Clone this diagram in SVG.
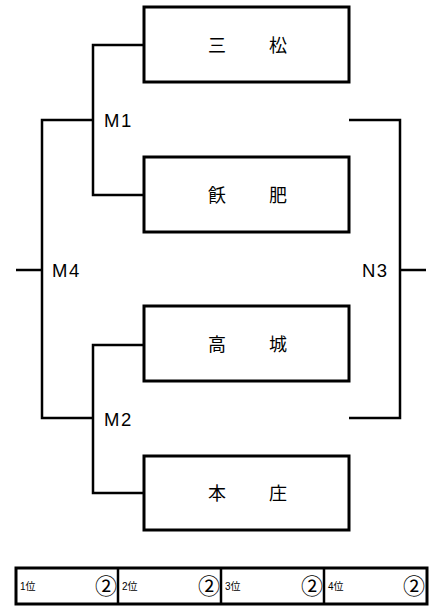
<svg xmlns="http://www.w3.org/2000/svg" width="440" height="608" viewBox="0 0 440 608">
<style>
.box{fill:#fff;stroke:#000;stroke-width:3}
.ln{fill:none;stroke:#000;stroke-width:2.5}
.nm{font-family:"Noto Sans CJK JP","Noto Sans CJK SC",sans-serif;font-size:18px;text-anchor:middle;fill:#000}
.lb{font-family:"Liberation Sans",Arial,sans-serif;font-size:18.5px;fill:#000;letter-spacing:1.5px}
.rk{font-family:"Liberation Sans","Noto Sans CJK JP",sans-serif;font-size:10px;fill:#000}
.cr{font-family:"Noto Sans CJK JP","DejaVu Sans",sans-serif;font-size:22px;text-anchor:middle;fill:#000}
</style>
<rect width="440" height="608" fill="#fff"/>
<g id="connectors">
<polyline class="ln" points="144,45 93,45 93,195 144,195"/>
<polyline class="ln" points="144,345 93,345 93,493 144,493"/>
<polyline class="ln" points="93,120 42,120 42,418 93,418"/>
<line class="ln" x1="16" y1="270" x2="42" y2="270"/>
<polyline class="ln" points="349,120 400,120 400,418 349,418"/>
<line class="ln" x1="400" y1="270" x2="426" y2="270"/>
</g>
<g id="labels">
<text class="lb" x="104" y="127">M1</text>
<text class="lb" x="104" y="426">M2</text>
<text class="lb" x="52" y="277">M4</text>
<text class="lb" x="362" y="277">N3</text>
</g>
<g id="team-mitsumatsu">
<rect class="box" x="144" y="7" width="205" height="75"/>
<text class="nm" x="217" y="52">三</text>
<text class="nm" x="278" y="52">松</text>
</g>
<g id="team-hihi">
<rect class="box" x="144" y="157" width="205" height="75"/>
<text class="nm" x="217" y="202">飫</text>
<text class="nm" x="278" y="202">肥</text>
</g>
<g id="team-takajo">
<rect class="box" x="144" y="306" width="205" height="75"/>
<text class="nm" x="217" y="351">高</text>
<text class="nm" x="278" y="351">城</text>
</g>
<g id="team-honjo">
<rect class="box" x="144" y="456" width="205" height="74"/>
<text class="nm" x="217" y="500">本</text>
<text class="nm" x="278" y="500">庄</text>
</g>
<g id="ranking">
<rect class="box" x="16" y="568" width="411" height="36"/>
<line class="ln" x1="118" y1="568" x2="118" y2="604" stroke-width="3"/>
<line class="ln" x1="221" y1="568" x2="221" y2="604" stroke-width="3"/>
<line class="ln" x1="324" y1="568" x2="324" y2="604" stroke-width="3"/>
<text class="rk" x="20" y="590">1位</text>
<text class="rk" x="122" y="590">2位</text>
<text class="rk" x="225" y="590">3位</text>
<text class="rk" x="328" y="590">4位</text>
<text class="cr" x="106" y="594">②</text>
<text class="cr" x="209" y="594">②</text>
<text class="cr" x="312" y="594">②</text>
<text class="cr" x="414" y="594">②</text>
</g>
</svg>
